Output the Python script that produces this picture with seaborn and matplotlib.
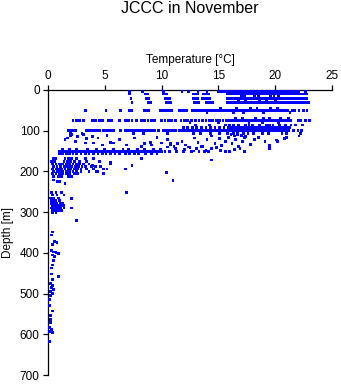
import matplotlib
matplotlib.use("Agg")
import matplotlib.pyplot as plt
import numpy as np
import pandas as pd
import seaborn as sns

# --- data (temperature in degC, depth in m) ---
# dense horizontal sampling levels: temperatures observed at each level
warm_surface = [15.5, 15.7, 15.9, 16.1, 16.3, 16.5, 16.7, 16.9, 17.1, 17.3, 17.5,
                17.7, 17.9, 18.1, 18.3, 18.5, 18.7, 18.9, 19.1, 19.3, 19.5, 19.7,
                19.9, 20.1, 20.3, 20.5, 20.7, 20.9, 21.1, 21.3, 21.5, 21.7, 21.9, 22.1]
warm_upper = [15.8, 16.0, 16.2, 16.4, 16.6, 16.8, 17.0, 17.2, 17.4, 17.6, 17.8,
              18.0, 18.2, 18.4, 18.6, 18.8, 19.0, 19.2, 19.4, 19.6, 19.8, 20.0,
              20.2, 20.4, 20.6, 20.8, 21.0, 21.2, 21.4, 21.6, 21.8, 22.0, 22.2,
              22.4, 22.6, 22.8]

lvl0_t = [7.2, 8.3, 10.2, 11.8, 12.4, 13.2, 14.0, 15.0, 15.3] + warm_surface + [22.7]
lvl10_t = [7.2, 8.6, 8.8, 10.2, 10.4, 12.8, 13.0, 13.2, 13.7, 13.9, 14.1] + warm_upper
lvl20_t = [7.3, 8.7, 8.9, 10.3, 10.5, 10.7, 12.8, 13.0, 13.2, 13.6, 13.8, 14.0,
           14.2] + warm_upper
lvl30_t = [7.4, 8.8, 9.0, 10.4, 10.6, 10.8, 12.9, 13.1, 13.3, 13.9, 14.1, 14.3,
           14.5] + warm_upper + [22.9]
lvl50_t = [3.3, 5.1, 6.4, 7.2, 7.4, 8.5, 8.7, 8.9, 9.9, 10.1, 10.3, 10.5, 10.7,
           10.9, 11.6, 11.8, 12.0, 12.2, 12.7, 12.9, 13.1, 13.3, 13.5, 13.7, 13.9,
           14.1, 14.3, 14.5, 14.7, 14.9, 15.1, 15.3, 15.5, 15.7, 15.9, 16.1, 16.3,
           16.5, 16.7, 16.9, 17.1, 17.3, 17.5, 17.7, 17.9, 18.1, 18.3, 18.5, 18.7,
           18.9, 19.1, 19.3, 19.5, 19.7, 19.9, 20.1, 20.3, 20.5, 20.7, 20.9, 21.1,
           21.5, 21.7, 22.1, 22.5, 22.8]
lvl75_t = [2.2, 2.5, 2.8, 3.1, 3.9, 4.2, 4.5, 4.8, 5.3, 5.6, 6.3, 6.8, 7.1, 7.4,
           7.8, 8.2, 8.5, 8.8, 9.1, 9.4, 10.0, 10.3, 10.6, 10.9, 11.2, 11.7, 12.0,
           12.3, 12.6, 13.0, 13.3, 13.6, 13.9, 14.2, 14.5, 14.8, 15.1, 15.4, 15.7,
           16.0, 16.2, 16.4, 16.6, 16.8, 17.0, 17.2, 17.4, 17.6, 17.8, 18.0, 18.2,
           18.4, 18.6, 18.8, 19.0, 19.2, 19.4, 19.6, 19.8, 20.0, 20.2, 20.4, 20.6,
           20.8, 21.0, 21.2, 21.4, 22.0, 22.2, 22.7, 23.0]
lvl86_t = [13.0, 14.2, 15.6, 16.0, 16.3, 16.8, 17.4, 17.7, 18.0, 18.6, 19.2, 19.5,
           19.8, 20.4, 20.9, 21.4, 21.8, 22.4]
lvl92_t = [11.9, 12.3, 12.7, 13.1, 13.5, 13.9, 14.3, 14.7, 15.1, 15.5, 15.9, 16.1,
           16.3, 16.5, 16.7, 16.9, 17.1, 17.3, 17.5, 17.7, 17.9, 18.1, 18.3, 18.5,
           18.7, 18.9, 19.1, 19.3, 19.5, 19.7, 19.9, 20.1, 20.3, 20.5, 20.7, 20.9,
           21.1, 21.3]
lvl100_t = [1.8, 2.0, 2.2, 2.4, 3.4, 3.6, 3.8, 4.0, 4.3, 4.5, 4.9, 5.1, 5.3, 5.5,
            5.8, 6.4, 6.8, 7.0, 7.2, 7.4, 7.6, 7.8, 8.0, 8.2, 8.4, 8.6, 8.8, 9.0,
            9.2, 9.4, 9.7, 10.2, 10.4, 10.6, 10.8, 11.0, 11.2, 11.6, 11.8, 12.0,
            12.2, 12.4, 12.6, 12.8, 13.0, 13.2, 13.4, 13.6, 13.8, 14.0, 14.2, 14.4,
            14.6, 14.8, 15.0, 15.2, 15.4, 15.6, 15.8, 16.0, 16.2, 16.4, 16.6, 16.8,
            17.0, 17.2, 17.4, 17.6, 17.8, 18.0, 18.2, 18.4, 18.6, 18.8, 19.0, 19.2,
            19.4, 19.6, 19.8, 20.0, 20.2, 20.4, 20.6, 20.8, 21.0, 21.2, 21.6, 22.0,
            22.3]
lvl107_t = [2.0, 3.0, 7.5, 8.4, 10.5, 12.8, 13.4, 14.3, 15.1, 15.8, 16.3, 16.7,
            17.2, 17.6, 18.1, 18.9, 19.4, 20.6, 21.0, 22.2]
lvl146_t = [1.3, 1.9, 2.5, 3.5, 4.3, 5.0, 5.8, 6.6, 7.1, 7.9, 8.5, 9.3, 9.9]
lvl152_t = [1.0, 1.2, 1.4, 1.6, 1.8, 2.0, 2.2, 2.4, 2.6, 2.8, 3.0, 3.2, 3.4, 3.6,
            3.8, 4.0, 4.2, 4.4, 4.6, 4.8, 5.0, 5.2, 5.4, 5.6, 5.8, 6.0, 6.2, 6.4,
            6.6, 6.8, 7.0, 7.2, 7.4, 7.6, 7.8, 8.0, 8.2, 8.4, 8.6, 8.8, 9.0, 9.2,
            9.4, 9.6, 9.8, 10.0, 10.3, 10.7, 11.3, 11.9, 12.6, 13.3, 13.8]
lvl157_t = [1.0, 1.3, 1.6, 1.9, 2.2, 2.5, 2.9, 3.3, 3.6, 4.0, 4.4, 4.8, 5.1, 5.5,
            5.9, 6.3, 6.8, 7.2, 7.6, 8.0, 8.6, 9.1, 9.6]
lvl168_t = [0.5, 0.7, 1.5, 1.8, 2.1, 2.5, 3.3, 4.0]
lvl175_t = [0.3, 0.6, 1.4, 1.7, 2.0, 2.3, 2.8, 3.4, 4.5]
lvl182_t = [0.4, 0.7, 1.0, 1.3, 1.6, 1.9, 2.2, 2.5, 2.8, 3.1, 3.6, 5.5]
lvl188_t = [0.5, 0.8, 1.1, 1.4, 1.6, 1.9, 2.1, 2.4, 2.7, 3.0, 3.3, 3.8, 4.2, 4.6]
lvl194_t = [0.4, 0.7, 0.9, 1.2, 1.5, 1.8, 2.0, 2.3, 2.6, 2.9, 3.4, 4.0, 4.9, 5.2, 6.8]
lvl200_t = [0.5, 0.8, 1.0, 1.3, 1.6, 1.9, 2.2, 2.5, 2.9, 3.6, 4.3]
lvl206_t = [0.4, 0.7, 1.0, 1.3, 1.6, 1.9, 2.3, 2.6, 4.9]
lvl212_t = [0.5, 0.9, 1.2, 1.8, 2.1]
lvl252_t = [0.3, 0.7, 1.2]
lvl258_t = [0.4, 0.8, 1.4]
lvl265_t = [0.2, 0.5, 0.9]
lvl272_t = [0.3, 0.5, 0.7, 1.0]
lvl278_t = [0.3, 0.6, 0.8, 1.1, 1.3]
lvl284_t = [0.4, 0.6, 0.8, 1.0, 1.2, 1.4]
lvl290_t = [0.3, 0.5, 0.7, 0.9, 1.1, 1.4]
lvl296_t = [0.4, 0.6, 0.8, 1.0, 1.2]
lvl302_t = [0.4, 0.7]

level_depths = [3, 10, 20, 30, 50, 75, 86, 92, 100, 107, 146, 152, 157, 168, 175,
                182, 188, 194, 200, 206, 212, 252, 258, 265, 272, 278, 284, 290,
                296, 302]
level_temps = [lvl0_t, lvl10_t, lvl20_t, lvl30_t, lvl50_t, lvl75_t, lvl86_t,
               lvl92_t, lvl100_t, lvl107_t, lvl146_t, lvl152_t, lvl157_t,
               lvl168_t, lvl175_t, lvl182_t, lvl188_t, lvl194_t, lvl200_t,
               lvl206_t, lvl212_t, lvl252_t, lvl258_t, lvl265_t, lvl272_t,
               lvl278_t, lvl284_t, lvl290_t, lvl296_t, lvl302_t]

# scattered individual casts
scat_t = [17.0, 17.3, 18.2, 18.5, 19.6, 19.9, 20.3, 16.8, 17.4, 18.6, 19.2, 20.0,
          15.2, 16.6, 17.8, 18.4, 19.6, 20.2, 14.0, 16.3, 17.2, 19.0, 21.3,
          16.5, 17.1, 18.3, 19.0, 19.5, 20.5, 21.2, 12.5, 15.0, 17.7, 18.9, 20.3,
          1.5, 1.7, 2.0, 2.1, 2.4, 2.6, 3.1, 3.3, 3.4, 3.9, 4.0, 4.4, 4.8, 5.2,
          5.5, 5.8, 6.3, 6.9, 7.6, 8.2, 8.5, 9.0, 9.1, 9.6, 10.0, 10.5, 10.8,
          11.1, 11.4, 11.8, 12.1, 12.5, 12.9, 13.2, 13.6, 14.0, 14.4, 14.7, 15.1,
          15.3, 15.6, 15.9, 16.2, 16.5, 16.8, 17.1, 17.4, 17.8, 18.2, 18.5, 19.1,
          19.5, 19.5, 20.1, 20.2, 20.8, 21.0, 22.1, 22.2,
          10.5, 10.8, 11.2, 12.0, 12.4, 12.8, 13.1, 13.5, 13.9, 14.1, 14.4, 14.8,
          15.2, 15.6, 16.0, 16.4, 16.9, 17.3, 16.1, 16.4, 16.7, 17.0, 17.3,
          0.5, 0.8, 1.0, 1.5, 2.8, 5.5, 7.4, 8.2, 10.4, 11.0, 14.4, 3.9, 4.4,
          2.1, 2.1, 2.5, 6.9,
          0.4, 0.3, 0.6, 0.8, 0.4, 0.3, 0.5, 0.7, 0.9, 0.4, 0.6, 0.5, 0.4, 0.3,
          0.3, 0.9, 0.4, 0.2, 0.4, 0.3, 0.5, 0.2, 0.4, 0.2, 0.1, 0.1, 0.4, 0.2,
          0.2, 0.2, 0.1, 0.3, 0.1, 0.4, 0.1]
scat_d = [14, 14, 14, 14, 14, 14, 14, 24, 24, 24, 24, 24,
          46, 46, 46, 46, 46, 46, 55, 55, 55, 55, 55,
          70, 70, 70, 70, 70, 70, 70, 80, 80, 80, 80, 80,
          122, 118, 113, 110, 127, 115, 110, 130, 120, 115, 130, 118, 135, 112,
          128, 130, 122, 135, 118, 139, 132, 128, 135, 117, 130, 122, 130,
          138, 132, 126, 135, 142, 118, 128, 138, 121, 113, 131, 120,
          137, 126, 116, 132, 121, 139, 127, 114, 133, 122, 116, 127,
          137, 143, 123, 126, 120, 117, 113, 106,
          140, 134, 143, 146, 140, 150, 144, 139, 148, 152, 144, 141,
          149, 152, 152, 146, 143, 152, 110, 113, 109, 112, 117,
          221, 224, 225, 229, 180, 178, 185, 168, 202, 222, 172, 185, 200,
          266, 290, 321, 251,
          349, 356, 373, 375, 380, 395, 398, 400, 402, 405, 408, 418, 430, 437,
          452, 458, 465, 475, 480, 486, 490, 495, 500, 505, 515, 530, 543, 553,
          563, 572, 583, 588, 593, 596, 618]

x_ticks = [0, 5, 10, 15, 20, 25]
y_ticks = [0, 100, 200, 300, 400, 500, 600, 700]

# --- build table ---
frames = [pd.DataFrame({"temp": t, "depth": d}) for d, t in zip(level_depths, level_temps)]
frames.append(pd.DataFrame({"temp": scat_t, "depth": scat_d}))
df = pd.concat(frames, ignore_index=True)

sns.set_theme(style="white")
plt.rcParams["font.family"] = ["Liberation Sans", "DejaVu Sans"]

W, H = 341, 384
fig = plt.figure(figsize=(W / 100, H / 100), dpi=100)
ax = fig.add_axes([48 / W, 1 - 375 / H, (332 - 48) / W, (375 - 90) / H])

sns.scatterplot(data=df, x="temp", y="depth", marker="s", s=4, color="#0000ff",
                edgecolor="none", linewidth=0, ax=ax, clip_on=False, zorder=3)

ax.set_xlim(0, 25)
ax.set_ylim(700, 0)
ax.set_xticks(x_ticks)
ax.set_yticks(y_ticks)
ax.xaxis.tick_top()
ax.xaxis.set_label_position("top")
for side in ["right", "bottom"]:
    ax.spines[side].set_visible(False)
for side in ["left", "top"]:
    ax.spines[side].set_color("black")
    ax.spines[side].set_linewidth(0.9)
ax.tick_params(axis="both", direction="out", length=3.5, width=0.9, color="black",
               labelsize=8.5, labelcolor="black", pad=2.5)
ax.tick_params(axis="x", top=True, bottom=False)
ax.tick_params(axis="y", left=True)
ax.set_xlabel("Temperature [°C]", fontsize=8.5, labelpad=5, color="black")
ax.set_ylabel("Depth [m]", fontsize=8.5, labelpad=4, color="black")
ax.grid(False)

fig.text(0.557, 0.978, "JCCC in November", ha="center", va="center",
         fontsize=11.5, color="black")

fig.savefig("out.png", dpi=100)
